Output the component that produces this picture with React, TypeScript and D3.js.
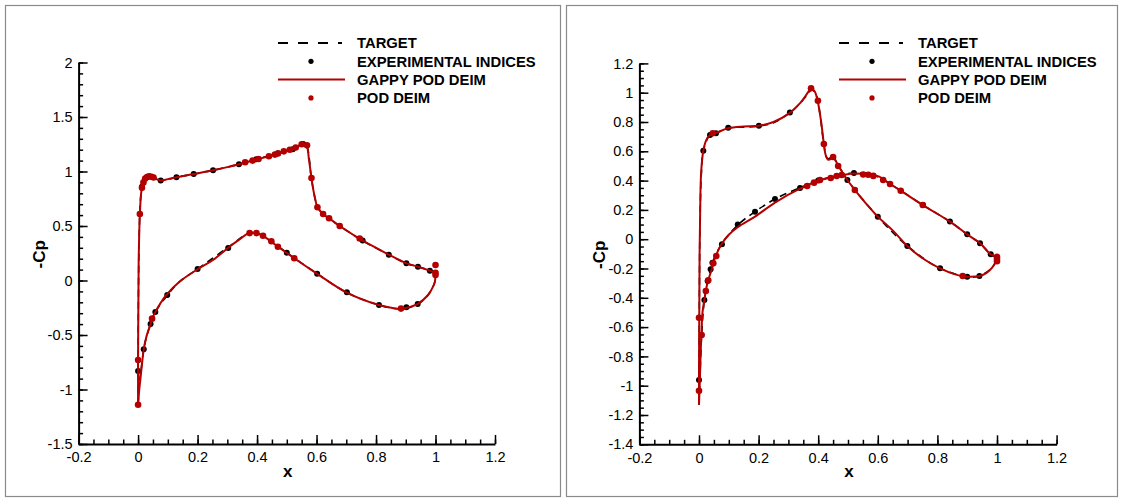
import React, { useEffect, useRef } from 'react';
import * as d3 from 'd3';

type Pt = [number, number];

// ---- axis ticks ----
const xTicks = [-0.2, 0, 0.2, 0.4, 0.6, 0.8, 1, 1.2];
const leftYTicks = [-1.5, -1, -0.5, 0, 0.5, 1, 1.5, 2];
const rightYTicks = [-1.4, -1.2, -1, -0.8, -0.6, -0.4, -0.2, 0, 0.2, 0.4, 0.6, 0.8, 1, 1.2];
const legendLabels = ['TARGET', 'EXPERIMENTAL INDICES', 'GAPPY POD DEIM', 'POD DEIM'];

// ---- left case ----
const leftTargetUpper: Pt[] = [[0, -1.14], [0.001, -0.2], [0.004, 0.45], [0.008, 0.74], [0.013, 0.86], [0.022, 0.92], [0.034, 0.95], [0.05, 0.945], [0.076, 0.918], [0.129, 0.947], [0.187, 0.977], [0.252, 1.011], [0.339, 1.066], [0.398, 1.112], [0.471, 1.167], [0.52, 1.205], [0.555, 1.255], [0.566, 1.24], [0.583, 0.93], [0.596, 0.74], [0.603, 0.68], [0.622, 0.61], [0.678, 0.5], [0.752, 0.37], [0.841, 0.24], [0.9, 0.158], [0.941, 0.127], [0.981, 0.093], [1.0, 0.07]];
const leftTargetLower: Pt[] = [[0, -1.14], [0.004, -0.95], [0.011, -0.8], [0.019, -0.631], [0.028, -0.52], [0.042, -0.4], [0.058, -0.29], [0.1, -0.13], [0.14, -0.01], [0.2, 0.105], [0.3, 0.3], [0.372, 0.432], [0.398, 0.435], [0.448, 0.356], [0.5, 0.255], [0.6, 0.066], [0.7, -0.108], [0.81, -0.225], [0.886, -0.26], [0.94, -0.216], [0.975, -0.133], [0.998, -0.01], [1.0, 0.07]];
const leftGappyUpper: Pt[] = [[0, -1.14], [0, -0.73], [0.001, -0.2], [0.002, 0.2], [0.004, 0.45], [0.006, 0.61], [0.009, 0.76], [0.013, 0.855], [0.018, 0.9], [0.022, 0.92], [0.03, 0.948], [0.04, 0.955], [0.05, 0.948], [0.062, 0.93], [0.076, 0.918], [0.1, 0.93], [0.129, 0.947], [0.187, 0.977], [0.252, 1.011], [0.3, 1.04], [0.339, 1.066], [0.398, 1.11], [0.44, 1.14], [0.471, 1.167], [0.51, 1.2], [0.535, 1.225], [0.555, 1.252], [0.566, 1.24], [0.575, 1.1], [0.583, 0.94], [0.59, 0.82], [0.596, 0.74], [0.603, 0.672], [0.622, 0.61], [0.642, 0.571], [0.678, 0.5], [0.748, 0.378], [0.8, 0.3], [0.841, 0.24], [0.9, 0.16], [0.941, 0.127], [0.981, 0.09], [1.0, 0.066]];
const leftGappyLower: Pt[] = [[0, -1.14], [0.004, -1.0], [0.008, -0.9], [0.011, -0.82], [0.015, -0.72], [0.019, -0.631], [0.028, -0.515], [0.042, -0.4], [0.047, -0.35], [0.058, -0.29], [0.075, -0.21], [0.095, -0.133], [0.14, -0.01], [0.2, 0.103], [0.252, 0.188], [0.303, 0.301], [0.34, 0.375], [0.372, 0.433], [0.398, 0.435], [0.42, 0.41], [0.448, 0.356], [0.471, 0.31], [0.499, 0.255], [0.525, 0.204], [0.6, 0.066], [0.7, -0.108], [0.81, -0.225], [0.86, -0.255], [0.886, -0.261], [0.9, -0.252], [0.939, -0.216], [0.975, -0.133], [0.993, -0.05], [0.998, -0.01], [1.0, 0.066]];
const leftExperimental: Pt[] = [[0, -0.83], [0.013, 0.86], [0.076, 0.918], [0.129, 0.947], [0.187, 0.977], [0.252, 1.011], [0.339, 1.066], [0.398, 1.112], [0.471, 1.167], [0.52, 1.205], [0.555, 1.252], [0.755, 0.367], [0.843, 0.236], [0.902, 0.158], [0.941, 0.127], [0.981, 0.09], [0.019, -0.631], [0.042, -0.4], [0.058, -0.29], [0.098, -0.133], [0.2, 0.105], [0.303, 0.298], [0.5, 0.255], [0.602, 0.062], [0.702, -0.108], [0.81, -0.225], [0.902, -0.245], [0.94, -0.216]];
const leftPodDeim: Pt[] = [[0, -1.14], [0, -0.73], [0.006, 0.61], [0.013, 0.85], [0.018, 0.9], [0.024, 0.935], [0.03, 0.95], [0.037, 0.955], [0.045, 0.952], [0.052, 0.945], [0.36, 1.085], [0.385, 1.1], [0.405, 1.115], [0.44, 1.14], [0.46, 1.155], [0.47, 1.165], [0.49, 1.185], [0.51, 1.2], [0.53, 1.22], [0.55, 1.25], [0.568, 1.24], [0.583, 0.94], [0.603, 0.672], [0.622, 0.61], [0.642, 0.571], [0.678, 0.5], [0.745, 0.385], [1.0, 0.142], [1.0, 0.07], [1.0, 0.05], [0.047, -0.35], [0.375, 0.435], [0.398, 0.435], [0.42, 0.41], [0.448, 0.36], [0.47, 0.31], [0.525, 0.204], [0.884, -0.258]];

// ---- right case ----
const rightTargetUpper: Pt[] = [[0, -1.13], [0.001, -0.5], [0.004, 0.2], [0.008, 0.45], [0.0145, 0.604], [0.037, 0.711], [0.057, 0.723], [0.098, 0.758], [0.15, 0.765], [0.201, 0.772], [0.25, 0.795], [0.305, 0.864], [0.34, 0.93], [0.365, 0.99], [0.378, 1.02], [0.39, 1.0], [0.4, 0.93], [0.419, 0.65], [0.428, 0.56], [0.438, 0.55], [0.445, 0.58], [0.46, 0.53], [0.498, 0.404], [0.6, 0.154], [0.699, -0.046], [0.809, -0.199], [0.9, -0.256], [0.941, -0.251], [0.985, -0.19], [1.0, -0.13]];
const rightTargetLower: Pt[] = [[0, -1.13], [0.003, -0.96], [0.009, -0.65], [0.018, -0.415], [0.029, -0.285], [0.039, -0.205], [0.045, -0.16], [0.076, -0.033], [0.132, 0.1], [0.188, 0.188], [0.255, 0.274], [0.339, 0.352], [0.4, 0.4], [0.52, 0.452], [0.585, 0.438], [0.641, 0.377], [0.751, 0.233], [0.842, 0.12], [0.9, 0.033], [0.943, -0.028], [0.979, -0.103], [1.0, -0.13]];
const rightGappyUpper: Pt[] = [[0, -1.13], [0, -0.9], [0.001, -0.5], [0.002, -0.1], [0.004, 0.2], [0.007, 0.45], [0.0145, 0.604], [0.025, 0.68], [0.037, 0.711], [0.046, 0.723], [0.057, 0.726], [0.098, 0.758], [0.15, 0.77], [0.201, 0.775], [0.25, 0.8], [0.305, 0.862], [0.34, 0.93], [0.365, 1.0], [0.376, 1.03], [0.388, 1.01], [0.398, 0.945], [0.41, 0.8], [0.419, 0.65], [0.425, 0.575], [0.432, 0.545], [0.44, 0.545], [0.449, 0.57], [0.46, 0.53], [0.471, 0.491], [0.498, 0.404], [0.524, 0.334], [0.56, 0.245], [0.6, 0.154], [0.65, 0.06], [0.699, -0.046], [0.75, -0.13], [0.809, -0.199], [0.86, -0.24], [0.885, -0.252], [0.9, -0.256], [0.941, -0.251], [0.965, -0.23], [0.985, -0.19], [0.997, -0.15], [1.0, -0.12]];
const rightGappyLower: Pt[] = [[0, -1.13], [0.003, -0.95], [0.006, -0.75], [0.009, -0.6], [0.012, -0.495], [0.018, -0.415], [0.023, -0.35], [0.031, -0.279], [0.043, -0.205], [0.048, -0.165], [0.056, -0.115], [0.076, -0.033], [0.1, 0.03], [0.132, 0.085], [0.188, 0.154], [0.255, 0.25], [0.339, 0.345], [0.361, 0.363], [0.395, 0.4], [0.417, 0.409], [0.442, 0.422], [0.462, 0.431], [0.484, 0.438], [0.518, 0.448], [0.551, 0.445], [0.585, 0.438], [0.605, 0.427], [0.641, 0.377], [0.677, 0.331], [0.751, 0.233], [0.842, 0.12], [0.9, 0.033], [0.943, -0.028], [0.979, -0.103], [1.0, -0.12]];
const rightExperimental: Pt[] = [[0, -0.961], [0.0145, 0.604], [0.037, 0.711], [0.057, 0.723], [0.098, 0.761], [0.201, 0.775], [0.305, 0.864], [0.498, 0.404], [0.6, 0.154], [0.699, -0.046], [0.809, -0.199], [0.9, -0.256], [0.941, -0.251], [0.018, -0.415], [0.029, -0.285], [0.039, -0.205], [0.045, -0.16], [0.077, -0.034], [0.13, 0.1], [0.188, 0.188], [0.255, 0.274], [0.339, 0.35], [0.4, 0.4], [0.52, 0.452], [0.751, 0.233], [0.842, 0.12], [0.9, 0.033], [0.943, -0.028], [0.979, -0.103]];
const rightPodDeim: Pt[] = [[0, -0.536], [0.009, -0.654], [0, -1.034], [0.023, -0.354], [0.031, -0.28], [0.048, -0.165], [0.058, -0.115], [0.046, 0.723], [0.376, 1.03], [0.399, 0.945], [0.419, 0.65], [0.45, 0.561], [0.467, 0.5], [0.523, 0.336], [0.363, 0.363], [0.386, 0.386], [0.406, 0.404], [0.442, 0.418], [0.462, 0.431], [0.479, 0.438], [0.551, 0.442], [0.568, 0.44], [0.585, 0.432], [0.618, 0.404], [0.641, 0.377], [0.677, 0.331], [0.751, 0.233], [0.885, -0.251], [1.0, -0.12], [1.0, -0.135], [1.0, -0.15]];

const RED = '#b40000';
const FONT = '"Liberation Sans", Arial, Helvetica, sans-serif';

const fmt = (d: number) => String(Number(d.toFixed(2)));

function drawPanel(svg: any, p: any) {
  const g = svg.append('g');

  g.append('rect')
    .attr('x', p.frame[0]).attr('y', p.frame[1])
    .attr('width', p.frame[2]).attr('height', p.frame[3])
    .attr('fill', 'none').attr('stroke', '#8a8a8a').attr('stroke-width', 1.2);

  const x = d3.scaleLinear().domain([-0.2, 1.2]).range([p.left, p.right]);
  const y = d3.scaleLinear().domain([p.yTicks[0], p.yTicks[p.yTicks.length - 1]]).range([p.bottom, p.top]);

  const xMinor = d3.range(-0.2, 1.2001, 0.05);
  const yMinor = d3.range(p.yTicks[0], p.yTicks[p.yTicks.length - 1] + 1e-6, p.yMinor);

  // minor ticks
  g.append('g').attr('transform', `translate(0,${p.bottom})`)
    .call(d3.axisBottom(x).tickValues(xMinor).tickSizeInner(-4.5).tickSizeOuter(0).tickFormat(() => ''))
    .call((s: any) => s.select('.domain').remove());
  g.append('g').attr('transform', `translate(${p.left},0)`)
    .call(d3.axisLeft(y).tickValues(yMinor).tickSizeInner(-4.5).tickSizeOuter(0).tickFormat(() => ''))
    .call((s: any) => s.select('.domain').remove());

  // major ticks + labels
  const gx = g.append('g').attr('transform', `translate(0,${p.bottom})`)
    .call(d3.axisBottom(x).tickValues(xTicks).tickSizeInner(-9).tickSizeOuter(0).tickPadding(6).tickFormat(fmt));
  const gy = g.append('g').attr('transform', `translate(${p.left},0)`)
    .call(d3.axisLeft(y).tickValues(p.yTicks).tickSizeInner(-9).tickSizeOuter(0).tickPadding(6).tickFormat(fmt));

  [gx, gy].forEach((a: any) => {
    a.attr('font-family', FONT).attr('font-size', 14.5);
    a.selectAll('text').attr('fill', '#000');
    a.select('.domain').attr('stroke', '#000').attr('stroke-width', 2);
  });
  g.selectAll('.tick line').attr('stroke', '#000').attr('stroke-width', 1.5);
  gx.selectAll('text').attr('dy', '0.85em');

  // axis titles
  g.append('text')
    .attr('x', (p.left + p.right) / 2 + 1).attr('y', p.bottom + 33)
    .attr('text-anchor', 'middle')
    .attr('font-family', FONT).attr('font-weight', 'bold').attr('font-size', 17)
    .text('x');
  g.append('text')
    .attr('transform', `translate(${p.left - 34},${(p.top + p.bottom) / 2 + 1}) rotate(-90)`)
    .attr('text-anchor', 'middle')
    .attr('font-family', FONT).attr('font-weight', 'bold').attr('font-size', 17)
    .text('-Cp');

  const line = d3.line<Pt>()
    .x((d) => x(d[0]))
    .y((d) => y(d[1]))
    .curve(d3.curveCatmullRom.alpha(0.5));

  // target (dashed)
  [p.targetUpper, p.targetLower].forEach((arr: Pt[]) => {
    g.append('path').attr('d', line(arr)).attr('fill', 'none')
      .attr('stroke', '#000').attr('stroke-width', 1.6).attr('stroke-dasharray', '7,5');
  });

  // experimental indices
  g.append('g').selectAll('circle').data(p.experimental).join('circle')
    .attr('cx', (d: Pt) => x(d[0])).attr('cy', (d: Pt) => y(d[1]))
    .attr('r', 3).attr('fill', '#000');

  // gappy pod deim
  [p.gappyUpper, p.gappyLower].forEach((arr: Pt[]) => {
    g.append('path').attr('d', line(arr)).attr('fill', 'none')
      .attr('stroke', RED).attr('stroke-width', 2);
  });

  // pod deim
  g.append('g').selectAll('circle').data(p.podDeim).join('circle')
    .attr('cx', (d: Pt) => x(d[0])).attr('cy', (d: Pt) => y(d[1]))
    .attr('r', 3.3).attr('fill', RED);

  // legend
  const lg = g.append('g').attr('transform', `translate(${p.legendX},${p.legendY})`);
  const rowH = 18.3;
  lg.append('line').attr('x1', 0).attr('x2', 64).attr('y1', 0).attr('y2', 0)
    .attr('stroke', '#000').attr('stroke-width', 2).attr('stroke-dasharray', '10,10');
  lg.append('circle').attr('cx', 33).attr('cy', rowH).attr('r', 2.6).attr('fill', '#000');
  lg.append('line').attr('x1', 0).attr('x2', 67).attr('y1', rowH * 2).attr('y2', rowH * 2)
    .attr('stroke', RED).attr('stroke-width', 2);
  lg.append('circle').attr('cx', 33).attr('cy', rowH * 3).attr('r', 2.6).attr('fill', RED);
  lg.selectAll('text.lab').data(legendLabels).join('text')
    .attr('class', 'lab')
    .attr('x', 79).attr('y', (_d: string, i: number) => i * rowH)
    .attr('dy', '0.36em')
    .attr('font-family', FONT).attr('font-weight', 'bold').attr('font-size', 14.8)
    .text((d: string) => d);
}

export default function App() {
  const ref = useRef<SVGSVGElement>(null);

  useEffect(() => {
    const svg = d3.select(ref.current);
    svg.selectAll('*').remove();

    drawPanel(svg, {
      frame: [5.5, 5.5, 555, 491],
      left: 78.6, right: 495, top: 62.5, bottom: 444,
      yTicks: leftYTicks, yMinor: 0.1,
      legendX: 278, legendY: 43,
      targetUpper: leftTargetUpper, targetLower: leftTargetLower,
      gappyUpper: leftGappyUpper, gappyLower: leftGappyLower,
      experimental: leftExperimental, podDeim: leftPodDeim,
    });

    drawPanel(svg, {
      frame: [566.5, 5.5, 551, 491],
      left: 639.4, right: 1056.6, top: 63.4, bottom: 444.3,
      yTicks: rightYTicks, yMinor: 0.05,
      legendX: 839, legendY: 43,
      targetUpper: rightTargetUpper, targetLower: rightTargetLower,
      gappyUpper: rightGappyUpper, gappyLower: rightGappyLower,
      experimental: rightExperimental, podDeim: rightPodDeim,
    });
  }, []);

  return (
    <svg
      ref={ref}
      width={1123}
      height={499}
      style={{ position: 'absolute', left: 0, top: 0, background: '#fff' }}
    />
  );
}
